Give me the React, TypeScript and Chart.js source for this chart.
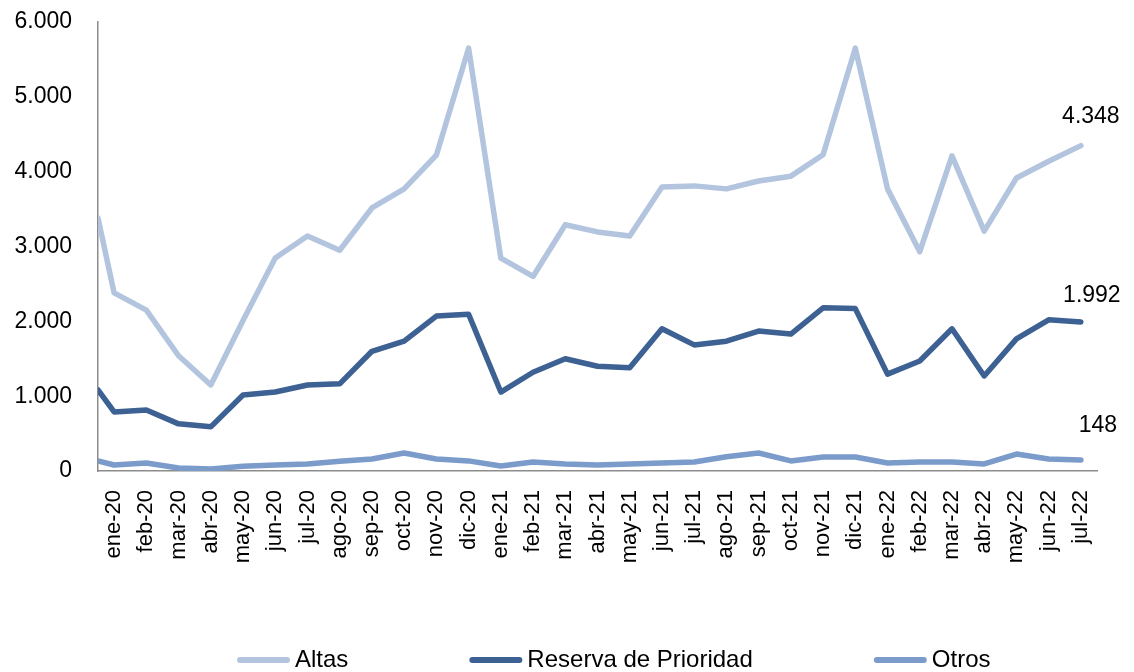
import React, { useEffect, useRef } from 'react';
import { Chart, registerables } from 'chart.js';

Chart.register(...registerables);

// Tick labels on the category axis (one per month)
const tickLabels = [
  'ene-20', 'feb-20', 'mar-20', 'abr-20', 'may-20', 'jun-20', 'jul-20', 'ago-20', 'sep-20', 'oct-20', 'nov-20', 'dic-20',
  'ene-21', 'feb-21', 'mar-21', 'abr-21', 'may-21', 'jun-21', 'jul-21', 'ago-21', 'sep-21', 'oct-21', 'nov-21', 'dic-21',
  'ene-22', 'feb-22', 'mar-22', 'abr-22', 'may-22', 'jun-22', 'jul-22',
];

// Series values: the first value of each series sits on the vertical axis (before ene-20)
const altas = [
  3380,
  2380, 2150, 1540, 1150, 2010, 2845, 3140, 2950, 3515, 3770, 4220, 5650,
  2845, 2600, 3290, 3195, 3140, 3795, 3810, 3770, 3875, 3940, 4225, 5650,
  3770, 2930, 4210, 3205, 3915, 4140, 4348,
];
const reserva = [
  1085,
  790, 815, 630, 590, 1015, 1055, 1150, 1165, 1600, 1735, 2070, 2095,
  1055, 1320, 1500, 1400, 1380, 1900, 1685, 1735, 1870, 1830, 2180, 2170,
  1295, 1470, 1900, 1270, 1765, 2020, 1992,
];
const otros = [
  135,
  80, 107, 40, 27, 65, 80, 95, 130, 160, 240, 160, 135,
  67, 120, 95, 80, 95, 107, 120, 190, 240, 135, 187, 187,
  107, 120, 120, 94, 227, 160, 148,
];

const seriesNames = ['Altas', 'Reserva de Prioridad', 'Otros'];
const seriesValues = [altas, reserva, otros];
const seriesColors = ['#B3C4DE', '#3C6192', '#7B9BCB'];
const endLabelOffsets: [number, number][] = [[10, -29], [11, -26], [17, -34]];

const yTicks = { min: 0, max: 6000, step: 1000 };

const FONT = '"Liberation Sans", Arial, sans-serif';

const fmt = (v: number) => String(Math.round(v)).replace(/\B(?=(\d{3})+(?!\d))/g, '.');
const toPoints = (vals: number[]) => vals.map((y, i) => ({ x: i === 0 ? -0.5 : i - 1, y }));

const endLabelPlugin = {
  id: 'endLabels',
  afterDatasetsDraw(chart: any) {
    const ctx = chart.ctx;
    ctx.save();
    ctx.font = `23px ${FONT}`;
    ctx.fillStyle = '#000';
    ctx.textAlign = 'center';
    ctx.textBaseline = 'middle';
    chart.data.datasets.forEach((ds: any, i: number) => {
      const meta = chart.getDatasetMeta(i);
      const last = meta.data.length - 1;
      const pt = meta.data[last];
      const [dx, dy] = endLabelOffsets[i];
      ctx.fillText(fmt(ds.data[last].y), pt.x + dx, pt.y + dy);
    });
    ctx.restore();
  },
};

const legendPlugin = {
  id: 'bottomLegend',
  afterDraw(chart: any) {
    const ctx = chart.ctx;
    ctx.save();
    ctx.font = `24px ${FONT}`;
    ctx.textBaseline = 'middle';
    ctx.textAlign = 'left';
    let x = 237;
    const y = 660;
    chart.data.datasets.forEach((ds: any) => {
      ctx.strokeStyle = ds.borderColor;
      ctx.lineWidth = 6;
      ctx.lineCap = 'round';
      ctx.beginPath();
      ctx.moveTo(x + 3, y);
      ctx.lineTo(x + 50, y);
      ctx.stroke();
      x += 58;
      ctx.fillStyle = '#000';
      ctx.fillText(ds.label, x, y);
      x += ctx.measureText(ds.label).width + 121;
    });
    ctx.restore();
  },
};

export default function App() {
  const canvasRef = useRef<HTMLCanvasElement | null>(null);

  useEffect(() => {
    if (!canvasRef.current) return;
    const chart = new Chart(canvasRef.current, {
      type: 'line',
      data: {
        datasets: seriesNames.map((name, i) => ({
          label: name,
          data: toPoints(seriesValues[i]),
          borderColor: seriesColors[i],
          backgroundColor: seriesColors[i],
          borderWidth: 5.5,
          borderJoinStyle: 'round' as const,
          borderCapStyle: 'round' as const,
          pointRadius: 0,
          tension: 0,
          fill: false,
        })),
      },
      options: {
        animation: false,
        responsive: true,
        maintainAspectRatio: false,
        layout: { padding: { top: 22, right: 37, bottom: 81, left: 0 } },
        plugins: {
          legend: { display: false },
          tooltip: { enabled: false },
        },
        scales: {
          x: {
            type: 'linear',
            min: -0.5,
            max: tickLabels.length - 0.5,
            afterBuildTicks: (axis: any) => {
              axis.ticks = tickLabels.map((_, i) => ({ value: i }));
            },
            afterFit: (scale: any) => {
              scale.height = 120;
              scale.paddingLeft = 0;
              scale.paddingRight = 0;
            },
            grid: { display: false, drawTicks: false },
            border: { display: true, color: '#8C8C8C', width: 1.5 },
            ticks: {
              autoSkip: false,
              minRotation: 90,
              maxRotation: 90,
              padding: 19,
              color: '#000',
              font: { family: FONT, size: 22 },
              callback: (v: any) => tickLabels[v] ?? '',
            },
          },
          y: {
            min: yTicks.min,
            max: yTicks.max,
            afterFit: (scale: any) => {
              scale.width = 98;
              scale.paddingTop = 0;
              scale.paddingBottom = 0;
            },
            grid: { display: false, drawTicks: false },
            border: { display: true, color: '#8C8C8C', width: 1.5 },
            ticks: {
              stepSize: yTicks.step,
              padding: 26,
              color: '#000',
              font: { family: FONT, size: 23 },
              callback: (v: any) => fmt(Number(v)),
            },
          },
        },
      },
      plugins: [endLabelPlugin, legendPlugin],
    } as any);
    return () => chart.destroy();
  }, []);

  return (
    <div style={{ position: 'fixed', left: 0, top: 0, width: 1134, height: 672, background: '#fff' }}>
      <canvas ref={canvasRef} />
    </div>
  );
}
